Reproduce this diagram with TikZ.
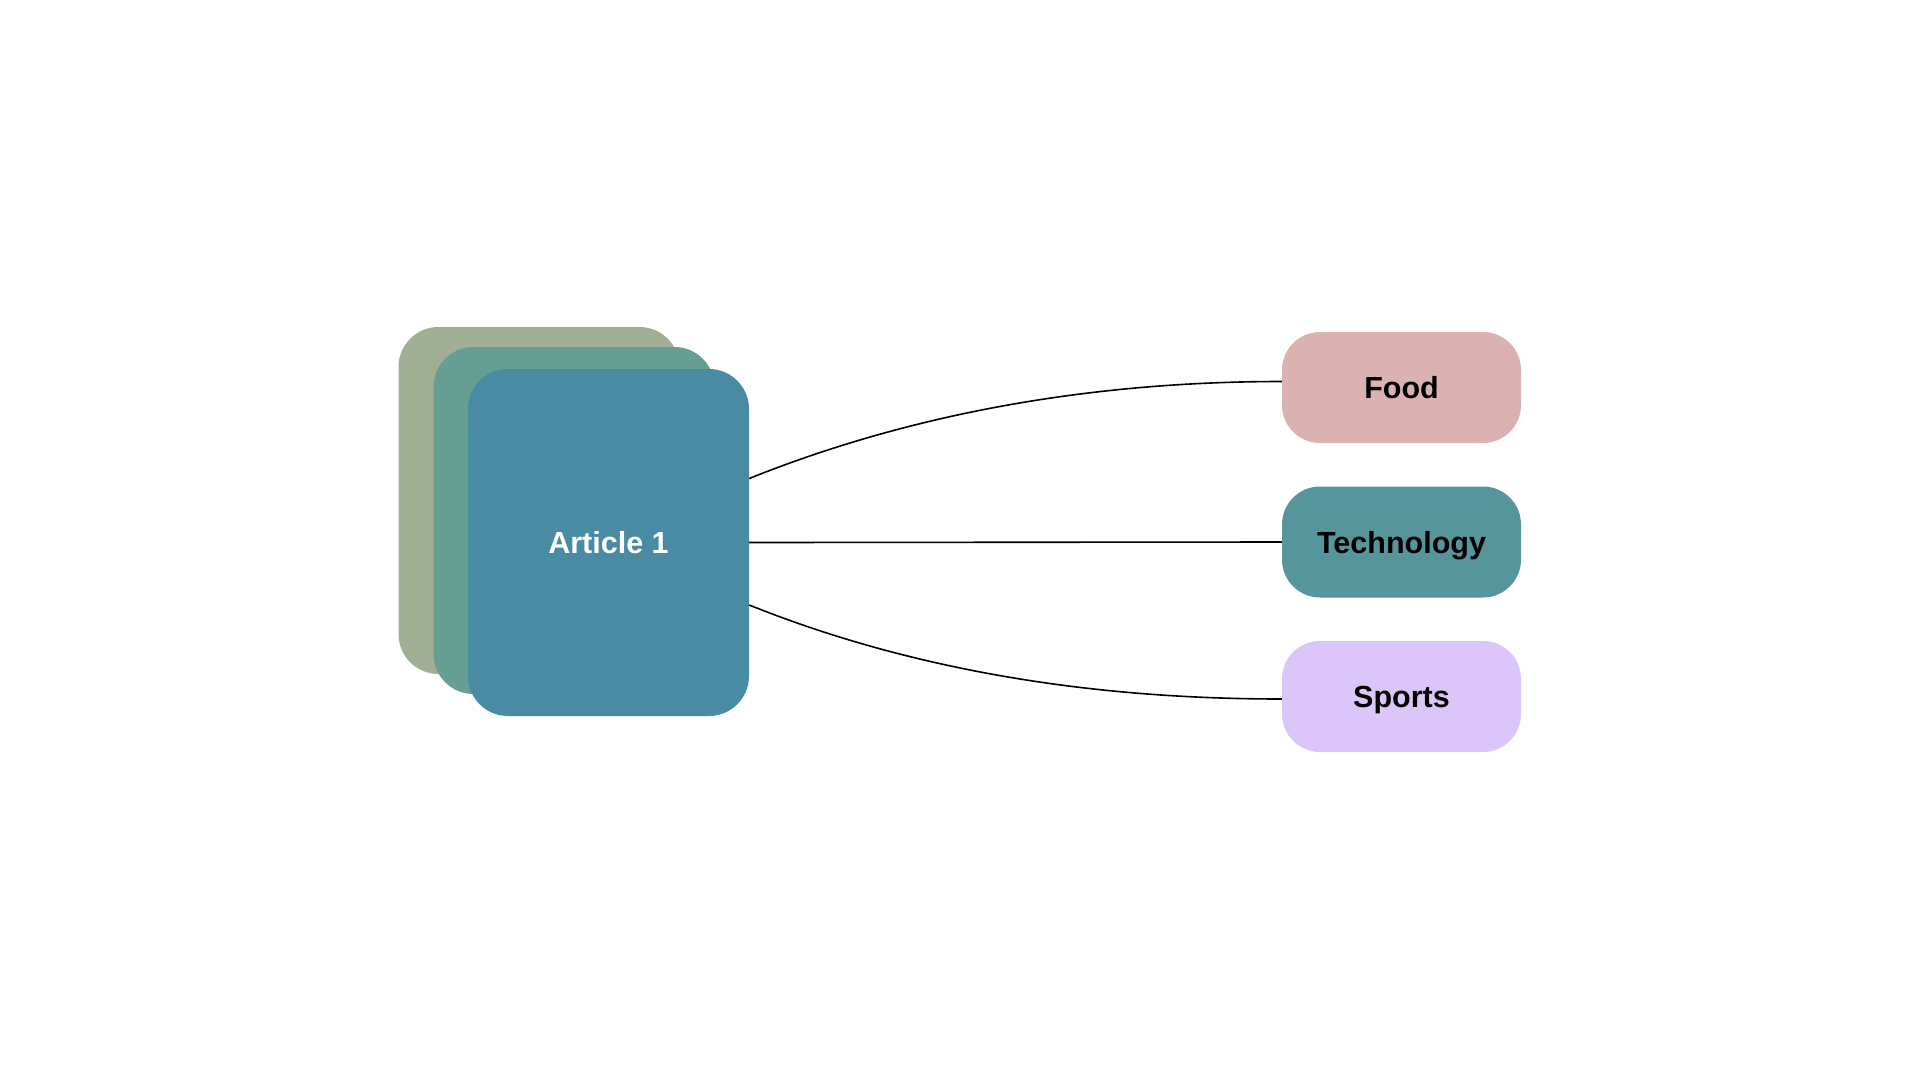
\documentclass[tikz,border=0pt]{standalone}
\usepackage{fontspec}
\setmainfont{Liberation Sans}
\definecolor{cardA}{HTML}{A0AE94}
\definecolor{cardB}{HTML}{679E94}
\definecolor{cardC}{HTML}{488BA2}
\definecolor{foodc}{HTML}{DBB2B2}
\definecolor{techc}{HTML}{56959B}
\definecolor{sportc}{HTML}{DCC5F8}
\tikzset{
  lbl/.style={font=\fontsize{30.5}{36}\selectfont\bfseries, text height=22pt, text depth=0pt},
  card/.style={rectangle, rounded corners=40pt, minimum width=281pt, minimum height=347pt, inner sep=0pt, draw=none},
  tag/.style={rectangle, rounded corners=38pt, minimum width=239pt, minimum height=111pt, inner sep=0pt, draw=none,
    lbl, text=black},
  link/.style={line width=1.6pt, black}
}
\begin{document}
\begin{tikzpicture}[x=1pt,y=-1pt]
\useasboundingbox (0,0) rectangle (1920,1080);
\node[card, fill=cardA] (back) at (539,500.5) {};
\node[card, fill=cardB] (mid) at (574,520.5) {};
\node[card, fill=cardC, text=white, lbl] (art) at (608.5,542.5) {Article 1};
\node[tag, fill=foodc] (food) at (1401.5,387.5) {Food};
\node[tag, fill=techc] (tech) at (1401.5,542) {Technology};
\node[tag, fill=sportc] (sport) at (1401.5,696.5) {Sports};
\draw[link] ([yshift=64pt]art.east) .. controls +(167,-67) and +(-185,0) .. ([yshift=6pt]food.west);
\draw[link] (art.east) -- (tech.west);
\draw[link] ([yshift=-62.5pt]art.east) .. controls +(167,67) and +(-185,0) .. ([yshift=-2.5pt]sport.west);
\end{tikzpicture}
\end{document}
